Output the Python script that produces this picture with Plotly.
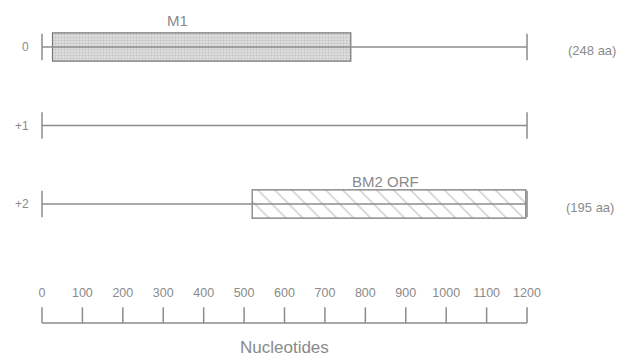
import plotly.graph_objects as go

# ---- data ----
frames = ["0", "+1", "+2"]            # reading frames (rows)
frame_rows = [0, 1, 2]
seq_start = 0
seq_end = 1200                        # nucleotides
orf_names = ["M1", "BM2 ORF"]
orf_rows = [0, 2]
orf_starts = [26, 520]
orf_ends = [764, 1197]
orf_sizes = ["(248 aa)", "(195 aa)"]
scale_ticks = [0, 100, 200, 300, 400, 500, 600, 700, 800, 900, 1000, 1100, 1200]
axis_title = "Nucleotides"

LINE = "#8c8c8c"
TXT = "#8a8a8a"
FONT = "Liberation Sans, Arial, sans-serif"

fig = go.Figure()

# frame lines with end ticks
for r in frame_rows:
    fig.add_trace(go.Scatter(x=[seq_start, seq_end], y=[r, r], mode="lines",
                             line=dict(color=LINE, width=1.5), hoverinfo="skip", showlegend=False))
    for xv in (seq_start, seq_end):
        fig.add_trace(go.Scatter(x=[xv, xv], y=[r - 0.17, r + 0.17], mode="lines",
                                 line=dict(color=LINE, width=1.5), hoverinfo="skip", showlegend=False))

# ORF boxes
patterns = [dict(shape=".", fgcolor="#a8a8a8", bgcolor="#dedede", size=3, solidity=0.4),
            dict(shape="\\", fgcolor="#7a7a7a", bgcolor="white", size=12, solidity=0.1)]
label_x = [336, 849]
label_dy = [-0.344, -0.293]
size_x = [1361, 1356]
size_dy = [0.05, 0.04]
for i in range(len(orf_names)):
    fig.add_trace(go.Bar(orientation="h", y=[orf_rows[i]], base=[orf_starts[i]],
                         x=[orf_ends[i] - orf_starts[i]], width=0.36,
                         marker=dict(color="#dedede" if i == 0 else "white",
                                     line=dict(color="#777777", width=1.2),
                                     pattern=patterns[i]),
                         hoverinfo="skip", showlegend=False))
    fig.add_annotation(x=label_x[i], y=orf_rows[i] + label_dy[i], text=orf_names[i],
                       showarrow=False, font=dict(family=FONT, size=15, color=TXT))
    fig.add_annotation(x=size_x[i], y=orf_rows[i] + size_dy[i], text=orf_sizes[i],
                       showarrow=False, font=dict(family=FONT, size=13, color=TXT))

# frame labels
for r, lab in zip(frame_rows, frames):
    fig.add_annotation(x=-27, y=r, text=lab, showarrow=False, xanchor="right",
                       font=dict(family=FONT, size=12, color=TXT))

# scale bar
ybase = 3.516
fig.add_trace(go.Scatter(x=[scale_ticks[0], scale_ticks[-1]], y=[ybase, ybase], mode="lines",
                         line=dict(color=LINE, width=1.5), hoverinfo="skip", showlegend=False))
for t in scale_ticks:
    fig.add_trace(go.Scatter(x=[t, t], y=[ybase - 0.2, ybase], mode="lines",
                             line=dict(color=LINE, width=1.5), hoverinfo="skip", showlegend=False))
fig.add_trace(go.Scatter(x=scale_ticks, y=[ybase - 0.37] * len(scale_ticks), mode="text",
                         text=[str(t) for t in scale_ticks],
                         textfont=dict(family=FONT, size=12.5, color=TXT),
                         hoverinfo="skip", showlegend=False))
fig.add_annotation(x=600, y=3.834, text=axis_title, showarrow=False,
                   font=dict(family=FONT, size=17, color=TXT))

fig.update_layout(width=621, height=356, margin=dict(l=0, r=0, t=0, b=0),
                  plot_bgcolor="white", paper_bgcolor="white", barmode="overlay",
                  xaxis=dict(range=[-103.9, 1432.5], visible=False),
                  yaxis=dict(range=[3.936, -0.599], visible=False))
fig.write_html("out.html", config={"displayModeBar": False},
               post_script="document.body.style.margin='0';document.body.style.overflow='hidden';")
